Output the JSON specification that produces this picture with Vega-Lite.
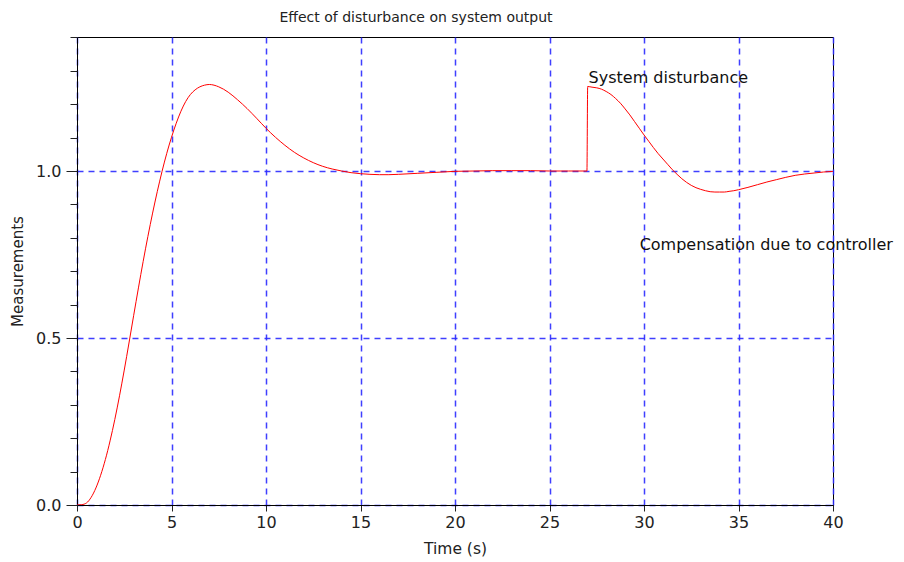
{
  "$schema": "https://vega.github.io/schema/vega-lite/v6.json",
  "width": 756,
  "height": 468,
  "autosize": {"type": "none"},
  "padding": {"left": 77, "top": 37, "right": 71, "bottom": 57},
  "background": "white",
  "config": {
    "view": {"stroke": "#000000", "strokeWidth": 1},
    "font": "DejaVu Sans",
    "axis": {"labelFont": "DejaVu Sans", "titleFont": "DejaVu Sans", "labelColor": "#222", "titleColor": "#222", "tickColor": "#222", "domainColor": "#000"}
  },
  "title": {"text": "Effect of disturbance on system output", "fontSize": 14, "fontWeight": "normal", "color": "#222", "offset": 12, "dx": -39, "font": "DejaVu Sans"},
  "datasets": {
    "curve": [
      {"t": 0, "v": 0}, {"t": 0.25, "v": 0.001}, {"t": 0.5, "v": 0.006}, {"t": 0.75, "v": 0.023},
      {"t": 1.0, "v": 0.051}, {"t": 1.25, "v": 0.089}, {"t": 1.5, "v": 0.136}, {"t": 1.75, "v": 0.192},
      {"t": 2.0, "v": 0.256}, {"t": 2.25, "v": 0.327}, {"t": 2.5, "v": 0.404}, {"t": 2.75, "v": 0.485},
      {"t": 3.0, "v": 0.568}, {"t": 3.25, "v": 0.65}, {"t": 3.5, "v": 0.729}, {"t": 3.75, "v": 0.804},
      {"t": 4.0, "v": 0.874}, {"t": 4.25, "v": 0.939}, {"t": 4.5, "v": 0.999}, {"t": 4.75, "v": 1.053},
      {"t": 5.0, "v": 1.101}, {"t": 5.25, "v": 1.143}, {"t": 5.5, "v": 1.179}, {"t": 5.75, "v": 1.208},
      {"t": 6.0, "v": 1.229}, {"t": 6.25, "v": 1.243}, {"t": 6.5, "v": 1.252}, {"t": 6.75, "v": 1.257},
      {"t": 7.0, "v": 1.259}, {"t": 7.25, "v": 1.257}, {"t": 7.5, "v": 1.252}, {"t": 7.75, "v": 1.245},
      {"t": 8.0, "v": 1.236}, {"t": 8.5, "v": 1.213}, {"t": 9.0, "v": 1.187}, {"t": 9.5, "v": 1.158},
      {"t": 10.0, "v": 1.128}, {"t": 10.5, "v": 1.101}, {"t": 11.0, "v": 1.077}, {"t": 11.5, "v": 1.056},
      {"t": 12.0, "v": 1.039}, {"t": 12.5, "v": 1.025}, {"t": 13.0, "v": 1.014}, {"t": 13.5, "v": 1.006},
      {"t": 14.0, "v": 1.0}, {"t": 14.5, "v": 0.995}, {"t": 15.0, "v": 0.992}, {"t": 15.5, "v": 0.99},
      {"t": 16.0, "v": 0.989}, {"t": 16.5, "v": 0.989}, {"t": 17.0, "v": 0.99}, {"t": 18.0, "v": 0.993},
      {"t": 19.0, "v": 0.996}, {"t": 20.0, "v": 0.999}, {"t": 21.0, "v": 1.0}, {"t": 22.0, "v": 1.001},
      {"t": 23.0, "v": 1.001}, {"t": 24.0, "v": 1.001}, {"t": 25.0, "v": 1.0}, {"t": 26.0, "v": 1.0},
      {"t": 26.98, "v": 1.0},
      {"t": 27.02, "v": 1.253}, {"t": 27.25, "v": 1.251}, {"t": 27.5, "v": 1.249}, {"t": 27.75, "v": 1.245},
      {"t": 28.0, "v": 1.238}, {"t": 28.25, "v": 1.229}, {"t": 28.5, "v": 1.217}, {"t": 28.75, "v": 1.203},
      {"t": 29.0, "v": 1.186}, {"t": 29.25, "v": 1.168}, {"t": 29.5, "v": 1.148}, {"t": 29.75, "v": 1.128},
      {"t": 30.0, "v": 1.108}, {"t": 30.25, "v": 1.089}, {"t": 30.5, "v": 1.07}, {"t": 30.75, "v": 1.052},
      {"t": 31.0, "v": 1.036}, {"t": 31.25, "v": 1.02}, {"t": 31.5, "v": 1.004}, {"t": 31.75, "v": 0.99},
      {"t": 32.0, "v": 0.977}, {"t": 32.25, "v": 0.966}, {"t": 32.5, "v": 0.957}, {"t": 32.75, "v": 0.95},
      {"t": 33.0, "v": 0.945}, {"t": 33.25, "v": 0.941}, {"t": 33.5, "v": 0.938}, {"t": 33.75, "v": 0.937},
      {"t": 34.0, "v": 0.937}, {"t": 34.25, "v": 0.937}, {"t": 34.5, "v": 0.939}, {"t": 34.75, "v": 0.941},
      {"t": 35.0, "v": 0.944}, {"t": 35.5, "v": 0.951}, {"t": 36.0, "v": 0.959}, {"t": 36.5, "v": 0.967},
      {"t": 37.0, "v": 0.974}, {"t": 37.5, "v": 0.981}, {"t": 38.0, "v": 0.987}, {"t": 38.5, "v": 0.991},
      {"t": 39.0, "v": 0.994}, {"t": 39.5, "v": 0.997}, {"t": 40.0, "v": 0.999}
    ],
    "notes": [
      {"t": 27.07, "v": 1.279, "label": "System disturbance"},
      {"t": 29.77, "v": 0.778, "label": "Compensation due to controller"}
    ]
  },
  "resolve": {"axis": {"y": "independent"}},
  "layer": [
    {
      "data": {"name": "curve"},
      "mark": {"type": "line", "color": "#ff0000", "strokeWidth": 1, "interpolate": "monotone", "clip": true},
      "encoding": {
        "x": {
          "field": "t", "type": "quantitative",
          "scale": {"domain": [0, 40], "nice": false, "zero": false},
          "axis": {
            "title": "Time (s)", "titleFontSize": 15.5, "titleFontWeight": "normal", "titlePadding": 11,
            "values": [0, 5, 10, 15, 20, 25, 30, 35, 40], "format": "d",
            "labelFontSize": 16, "labelPadding": 3, "tickSize": 6, "labelFlush": false,
            "grid": true, "gridColor": "#2a2aff", "gridDash": [6, 5], "gridWidth": 1.5, "gridOpacity": 0.9,
            "domainColor": "#000"
          }
        },
        "y": {
          "field": "v", "type": "quantitative",
          "scale": {"domain": [0, 1.401198], "nice": false, "zero": false},
          "axis": {
            "title": "Measurements", "titleFontSize": 15, "titleFontWeight": "normal", "titlePadding": 10,
            "values": [0, 0.5, 1.0], "format": ".1f",
            "labelFontSize": 16, "labelPadding": 5, "tickSize": 11, "labelFlush": false,
            "grid": true, "gridColor": "#2a2aff", "gridDash": [6, 5], "gridWidth": 1.5, "gridOpacity": 0.9,
            "domainColor": "#000"
          }
        }
      }
    },
    {
      "data": {"name": "notes"},
      "mark": {"type": "text", "align": "left", "baseline": "middle", "fontSize": 16, "color": "#111", "font": "DejaVu Sans"},
      "encoding": {
        "x": {"field": "t", "type": "quantitative"},
        "y": {
          "field": "v", "type": "quantitative",
          "axis": {
            "orient": "left", "title": null, "labels": false, "grid": false, "domain": false,
            "values": [0, 0.1, 0.2, 0.3, 0.4, 0.5, 0.6, 0.7, 0.8, 0.9, 1.0, 1.1, 1.2, 1.3, 1.4],
            "tickSize": 7
          }
        },
        "text": {"field": "label"}
      }
    }
  ]
}
